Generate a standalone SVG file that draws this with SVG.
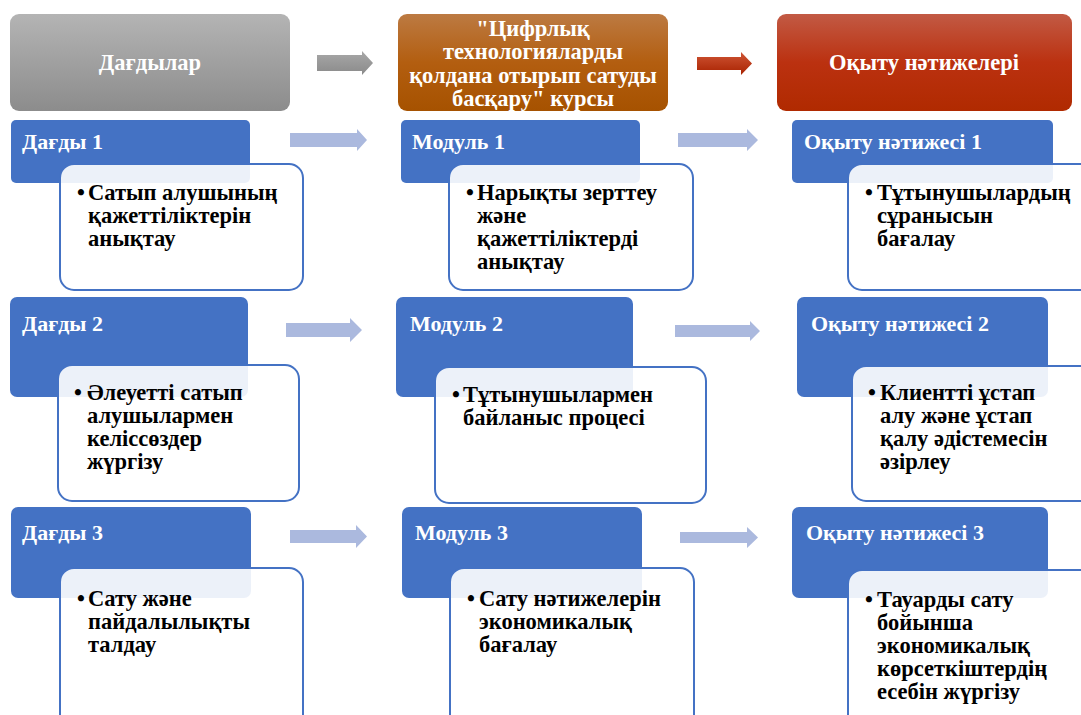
<svg xmlns="http://www.w3.org/2000/svg" width="1081" height="715" viewBox="0 0 1081 715">
<defs>
<linearGradient id="gGrey" x1="0" y1="0" x2="0" y2="1"><stop offset="0" stop-color="#b4b4b4"/><stop offset="1" stop-color="#8c8c8c"/></linearGradient>
<linearGradient id="gOrange" x1="0" y1="0" x2="0" y2="1"><stop offset="0" stop-color="#bc7a42"/><stop offset="0.5" stop-color="#b35e10"/><stop offset="1" stop-color="#a65200"/></linearGradient>
<linearGradient id="gRed" x1="0" y1="0" x2="0" y2="1"><stop offset="0" stop-color="#c25a44"/><stop offset="0.5" stop-color="#bb3110"/><stop offset="1" stop-color="#b02a00"/></linearGradient>
<linearGradient id="gGreyA" x1="0" y1="0" x2="0" y2="1"><stop offset="0" stop-color="#a8a8a8"/><stop offset="1" stop-color="#8a8a8a"/></linearGradient>
<linearGradient id="gRedA" x1="0" y1="0" x2="0" y2="1"><stop offset="0" stop-color="#cf5535"/><stop offset="1" stop-color="#a82200"/></linearGradient>
</defs>
<style>
.hdr{font-family:"Liberation Serif","Times New Roman",serif;font-weight:bold;font-size:22.5px;fill:#ffffff;text-anchor:middle}
.blue{fill:#4472c4}
.ttl{font-family:"Liberation Serif","Times New Roman",serif;font-weight:bold;font-size:22px;fill:#ffffff}
.card{fill:#ffffff;fill-opacity:0.9;stroke:#4472c4;stroke-width:2}
.body{font-family:"Liberation Serif","Times New Roman",serif;font-weight:bold;font-size:22.5px;fill:#000000}
.arr{fill:#abb9de}
</style>

<g id="hdr-skills">
<rect x="10" y="14" width="280" height="97" rx="9" fill="url(#gGrey)"/>
<text class="hdr" x="150" y="70">Дағдылар</text>
</g>
<g id="hdr-course">
<rect x="398" y="14" width="270" height="97" rx="9" fill="url(#gOrange)"/>
<text class="hdr" x="533" y="36">"Цифрлық</text>
<text class="hdr" x="533" y="59">технологияларды</text>
<text class="hdr" x="533" y="83">қолдана отырып сатуды</text>
<text class="hdr" x="533" y="106">басқару" курсы</text>
</g>
<g id="hdr-results">
<rect x="777" y="14" width="295" height="97" rx="9" fill="url(#gRed)"/>
<text class="hdr" x="924" y="70">Оқыту нәтижелері</text>
</g>

<g id="skill1">
<rect class="blue" x="11" y="120" width="239" height="63" rx="5"/>
<text class="ttl" x="22" y="149">Дағды 1</text>
<rect class="card" x="60" y="164" width="243" height="126" rx="14"/>
<text class="body" x="77" y="200">•</text>
<text class="body"><tspan x="88" y="200">Сатып алушының</tspan><tspan x="88" y="223">қажеттіліктерін</tspan><tspan x="88" y="246">анықтау</tspan></text>
</g>
<g id="module1">
<rect class="blue" x="401" y="120" width="239" height="63" rx="5"/>
<text class="ttl" x="412" y="149">Модуль 1</text>
<rect class="card" x="449" y="164" width="244" height="126" rx="14"/>
<text class="body" x="466" y="200">•</text>
<text class="body"><tspan x="477" y="200">Нарықты зерттеу</tspan><tspan x="477" y="223">және</tspan><tspan x="477" y="246">қажеттіліктерді</tspan><tspan x="477" y="269">анықтау</tspan></text>
</g>
<g id="result1">
<rect class="blue" x="792" y="120" width="261" height="63" rx="5"/>
<text class="ttl" x="804" y="149">Оқыту нәтижесі 1</text>
<rect class="card" x="848" y="164" width="250" height="126" rx="14"/>
<text class="body" x="865" y="200">•</text>
<text class="body"><tspan x="877" y="200">Тұтынушылардың</tspan><tspan x="877" y="223">сұранысын</tspan><tspan x="877" y="246">бағалау</tspan></text>
</g>

<g id="skill2">
<rect class="blue" x="10" y="297" width="238" height="100" rx="7"/>
<text class="ttl" x="22" y="331">Дағды 2</text>
<rect class="card" x="58" y="365" width="241" height="136" rx="14"/>
<text class="body" x="74" y="400">•</text>
<text class="body"><tspan x="87" y="400">Әлеуетті сатып</tspan><tspan x="87" y="423">алушылармен</tspan><tspan x="87" y="446">келіссөздер</tspan><tspan x="87" y="469">жүргізу</tspan></text>
</g>
<g id="module2">
<rect class="blue" x="396" y="297" width="237" height="100" rx="7"/>
<text class="ttl" x="410" y="331">Модуль 2</text>
<rect class="card" x="435" y="367" width="271" height="136" rx="14"/>
<text class="body" x="452" y="402">•</text>
<text class="body"><tspan x="463" y="402">Тұтынушылармен</tspan><tspan x="463" y="425">байланыс процесі</tspan></text>
</g>
<g id="result2">
<rect class="blue" x="797" y="297" width="251" height="100" rx="7"/>
<text class="ttl" x="811" y="331">Оқыту нәтижесі 2</text>
<rect class="card" x="852" y="366" width="250" height="135" rx="14"/>
<text class="body" x="868" y="400">•</text>
<text class="body"><tspan x="880" y="400">Клиентті ұстап</tspan><tspan x="880" y="423">алу және ұстап</tspan><tspan x="880" y="446">қалу әдістемесін</tspan><tspan x="880" y="469">әзірлеу</tspan></text>
</g>

<g id="skill3">
<rect class="blue" x="11" y="507" width="240" height="91" rx="7"/>
<text class="ttl" x="22" y="540">Дағды 3</text>
<rect class="card" x="60" y="568" width="243" height="160" rx="14"/>
<text class="body" x="77" y="606">•</text>
<text class="body"><tspan x="88" y="606">Сату және</tspan><tspan x="88" y="629">пайдалылықты</tspan><tspan x="88" y="652">талдау</tspan></text>
</g>
<g id="module3">
<rect class="blue" x="402" y="507" width="240" height="91" rx="7"/>
<text class="ttl" x="415" y="540">Модуль 3</text>
<rect class="card" x="450" y="568" width="244" height="160" rx="14"/>
<text class="body" x="467" y="606">•</text>
<text class="body"><tspan x="479" y="606">Сату нәтижелерін</tspan><tspan x="479" y="629">экономикалық</tspan><tspan x="479" y="652">бағалау</tspan></text>
</g>
<g id="result3">
<rect class="blue" x="792" y="507" width="256" height="91" rx="7"/>
<text class="ttl" x="806" y="540">Оқыту нәтижесі 3</text>
<rect class="card" x="848" y="570" width="250" height="160" rx="14"/>
<text class="body" x="865" y="607">•</text>
<text class="body"><tspan x="877" y="607">Тауарды сату</tspan><tspan x="877" y="630">бойынша</tspan><tspan x="877" y="653">экономикалық</tspan><tspan x="877" y="676">көрсеткіштердің</tspan><tspan x="877" y="699">есебін жүргізу</tspan></text>
</g>

<g id="connectors">
<polygon fill="url(#gGreyA)" points="317,55 362,55 362,51 373,63 362,75 362,71 317,71"/>
<polygon fill="url(#gRedA)" points="697,57 741,57 741,52 752,63.5 741,75 741,70 697,70"/>
<polygon class="arr" points="290,133 357,133 357,129 367,140 357,151 357,147 290,147"/>
<polygon class="arr" points="678,133 747,133 747,129 758,140 747,151 747,147 678,147"/>
<polygon class="arr" points="286,323 350,323 350,318 362,330 350,342 350,337 286,337"/>
<polygon class="arr" points="675,325 750,325 750,321 760,331 750,341 750,337 675,337"/>
<polygon class="arr" points="290,530 356,530 356,525 367,536.5 356,548 356,543 290,543"/>
<polygon class="arr" points="680,532 747,532 747,527 758,537.5 747,548 747,543 680,543"/>
</g>
</svg>
